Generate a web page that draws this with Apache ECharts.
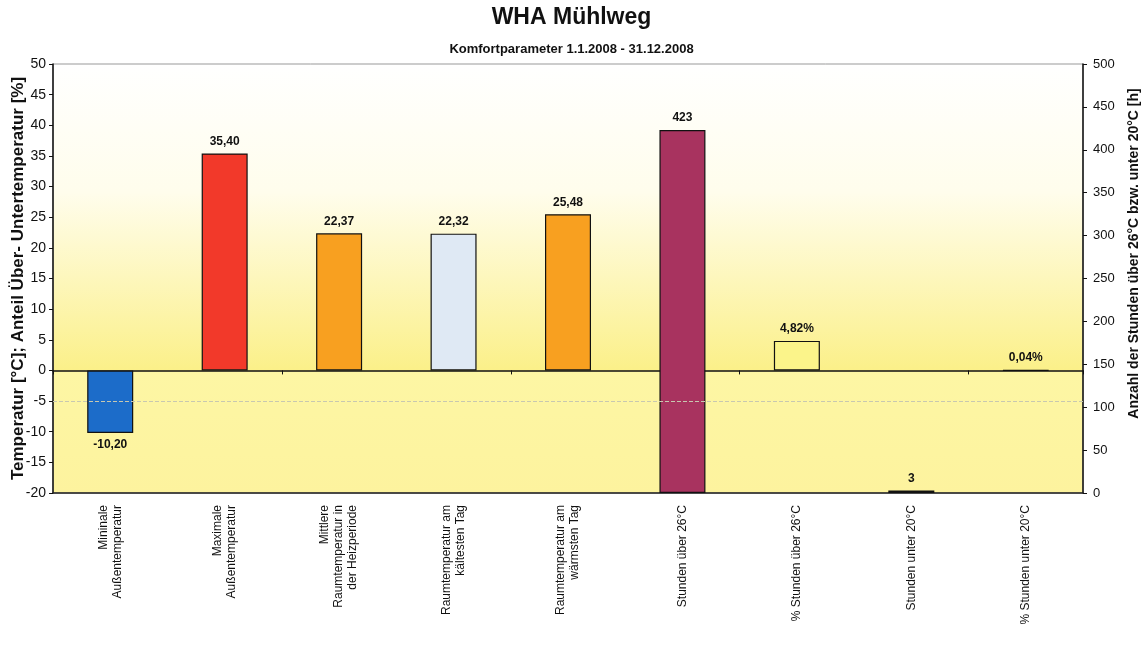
<!DOCTYPE html>
<html>
<head>
<meta charset="utf-8">
<script src="https://cdn.jsdelivr.net/npm/echarts@6/dist/echarts.min.js"></script>
<style>
html,body{margin:0;padding:0;background:#fff;}
#main{width:1143px;height:648px;}
</style>
</head>
<body>
<div id="main"></div>
<script>
//Kategorien der x-Achse
var categories = [
	'Mininale\nAußentemperatur',
	'Maximale\nAußentemperatur',
	'Mittlere\nRaumtemperatur in\nder Heizperiode',
	'Raumtemperatur am\nkältesten Tag',
	'Raumtemperatur am\nwärmsten Tag',
	'Stunden über 26°C',
	'% Stunden über 26°C',
	'Stunden unter 20°C',
	'% Stunden unter 20°C'
];
//Temperatur und Anteil (linke Achse)
var tempValues = [-10.20, 35.40, 22.37, 22.32, 25.48, null, 4.82, null, 0.04];
//Stunden (rechte Achse)
var hourValues = [null, null, null, null, null, 423, null, 3, null];
var isPercent = [false, false, false, false, false, false, true, false, true];
var barColors = ['#1c6cc9', '#f2392a', '#f8a020', '#dfe9f4', '#f8a020', '#a8335f', '#fbf48a', '#2b2430', '#fbf48a'];
var leftTicks = {min: -20, max: 50, interval: 5};
var rightTicks = {min: 0, max: 500, interval: 50};

var font = 'Liberation Sans, Arial, sans-serif';
var narrow = 'Liberation Sans Narrow, Liberation Sans, Arial, sans-serif';

function fmt(v, pct){
	return v.toFixed(2).replace('.', ',') + (pct ? '%' : '');
}

var tempData = tempValues.map(function(v, i){
	if(v === null) return '-';
	return {
		value: v,
		itemStyle: {color: barColors[i]},
		label: {position: v < 0 ? 'bottom' : 'top'}
	};
});
var hourData = hourValues.map(function(v, i){
	if(v === null) return '-';
	return {value: v, itemStyle: {color: barColors[i]}};
});

var chart = echarts.init(document.getElementById('main'));
chart.setOption({
	animation: false,
	title: [{
		text: 'WHA Mühlweg',
		left: 'center',
		top: 1,
		textStyle: {fontFamily: font, fontSize: 23, fontWeight: 'bold', color: '#111'}
	},{
		text: 'Komfortparameter 1.1.2008 - 31.12.2008',
		left: 'center',
		top: 38,
		textStyle: {fontFamily: font, fontSize: 13, fontWeight: 'bold', color: '#111'}
	}],
	grid: {
		left: 53, right: 60, top: 64, bottom: 155,
		containLabel: false,
		outerBoundsMode: 'none',
		show: true,
		borderColor: '#999',
		borderWidth: 1,
		backgroundColor: {
			type: 'linear', x: 0, y: 0, x2: 0, y2: 1,
			colorStops: [
				{offset: 0, color: '#ffffff'},
				{offset: 0.3, color: '#fffdec'},
				{offset: 0.713, color: '#fbf089'},
				{offset: 0.716, color: '#fdf6a4'},
				{offset: 1, color: '#fdf39e'}
			]
		}
	},
	xAxis: [{
		type: 'category',
		data: categories,
		position: 'bottom',
		axisLine: {onZero: false, lineStyle: {color: '#222', width: 1.5}},
		axisTick: {show: false},
		axisLabel: {
			interval: 0,
			rotate: 90,
			margin: 12,
			fontFamily: narrow,
			fontSize: 12,
			lineHeight: 14,
			color: '#111'
		}
	},{
		type: 'category',
		data: categories,
		position: 'top',
		axisLine: {onZero: true, onZeroAxisIndex: 0, lineStyle: {color: '#111', width: 1.5}},
		axisTick: {show: true, inside: true, length: 4, lineStyle: {color: '#111'}},
		axisLabel: {show: false}
	}],
	yAxis: [{
		type: 'value',
		min: leftTicks.min, max: leftTicks.max, interval: leftTicks.interval,
		name: 'Temperatur [°C]; Anteil Über- Untertemperatur [%]',
		nameLocation: 'middle',
		nameGap: 26,
		nameRotate: 90,
		nameMoveOverlap: false,
		nameTextStyle: {fontFamily: font, fontSize: 17, fontWeight: 'bold', color: '#111'},
		axisLine: {show: true, lineStyle: {color: '#111', width: 1.5}},
		axisTick: {show: true, length: 4, lineStyle: {color: '#111'}},
		axisLabel: {fontFamily: font, fontSize: 14, color: '#111', margin: 7},
		splitLine: {show: false}
	},{
		type: 'value',
		position: 'right',
		min: rightTicks.min, max: rightTicks.max, interval: rightTicks.interval,
		name: 'Anzahl der Stunden über 26°C bzw. unter 20°C [h]',
		nameLocation: 'middle',
		nameGap: 44,
		nameRotate: 90,
		nameMoveOverlap: false,
		nameTextStyle: {fontFamily: font, fontSize: 14, fontWeight: 'bold', color: '#111', padding: [0, 0, 0, 50]},
		axisLine: {show: true, lineStyle: {color: '#111', width: 1.5}},
		axisTick: {show: true, inside: false, length: 4, lineStyle: {color: '#111'}},
		axisLabel: {fontFamily: font, fontSize: 13, color: '#111', margin: 10},
		splitLine: {show: false}
	}],
	series: [{
		//nur für die gestrichelte Hilfslinie hinter den Balken
		name: 'Hilfslinie',
		type: 'line',
		yAxisIndex: 0,
		data: [],
		z: 1,
		markLine: {
			silent: true,
			symbol: 'none',
			label: {show: false},
			data: [
				{yAxis: -5, lineStyle: {color: '#c8c8b0', type: 'dashed', width: 1}}
			]
		}
	},{
		name: 'Temperatur',
		type: 'bar',
		yAxisIndex: 0,
		barWidth: 46,
		barGap: '-100%',
		data: tempData,
		itemStyle: {borderColor: '#111', borderWidth: 1.2},
		label: {
			show: true,
			distance: 6,
			fontFamily: font,
			fontSize: 12,
			fontWeight: 'bold',
			color: '#111',
			formatter: function(p){ return fmt(p.value, isPercent[p.dataIndex]); }
		},
		z: 3
	},{
		name: 'Stunden',
		type: 'bar',
		yAxisIndex: 1,
		barWidth: 46,
		barGap: '-100%',
		data: hourData,
		itemStyle: {borderColor: '#111', borderWidth: 1.2},
		label: {
			show: true,
			position: 'top',
			distance: 6,
			fontFamily: font,
			fontSize: 12,
			fontWeight: 'bold',
			color: '#111'
		},
		z: 3
	}]
});
</script>
</body>
</html>
